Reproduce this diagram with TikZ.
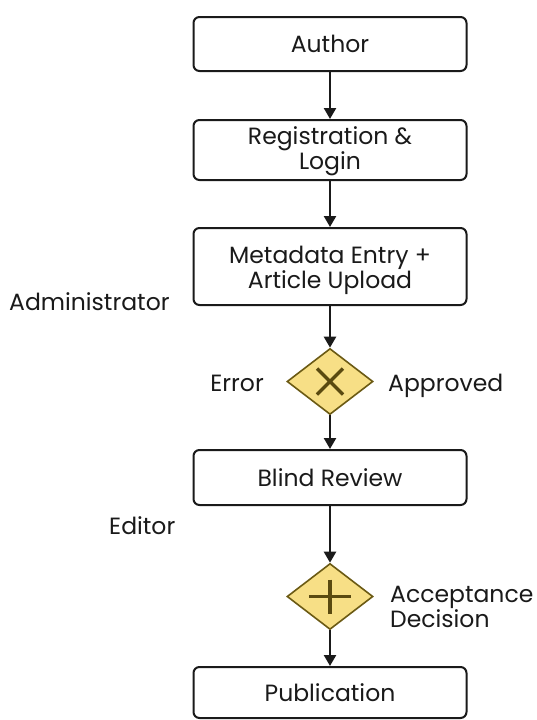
\documentclass[tikz,border=0pt]{standalone}
\usepackage{fontspec}
\setmainfont{Poppins}
\usetikzlibrary{arrows.meta,shapes.geometric,calc}
\definecolor{gwfill}{HTML}{F7DF86}
\definecolor{gwline}{HTML}{6B5A14}
\definecolor{gwmark}{HTML}{5A4A10}
\definecolor{ink}{HTML}{1A1A1A}
\begin{document}
\begin{tikzpicture}[x=1pt,y=-1pt,
  stepbox/.style={draw=ink,line width=2pt,rounded corners=6pt,minimum width=273pt,inner sep=0pt,align=center,font=\fontsize{23.5}{25}\selectfont,text=ink},
  gw/.style={draw=gwline,fill=gwfill,line width=1.6pt,diamond,minimum width=86pt,minimum height=66pt,inner sep=0pt,aspect=1.3},
  lbl/.style={font=\fontsize{23.5}{25}\selectfont,text=ink,inner sep=0pt},
  flow/.style={draw=ink,line width=2.4pt,-{Triangle[length=11pt,width=12pt]}},
  gwsign/.style={draw=gwmark,line width=3.5pt}
]
\useasboundingbox (0,0) rectangle (537,720);
\fill[white] (0,0) rectangle (537,720);
\node[stepbox,minimum height=54pt] (author) at (330,44) {Author};
\node[stepbox,minimum height=60pt] (reg) at (330,150) {\rule{0pt}{21pt}Registration \&\\Login};
\node[stepbox,minimum height=77pt] (meta) at (330,266.5) {\rule{0pt}{26pt}Metadata Entry +\\Article Upload};
\node[gw] (g1) at (330,381.5) {};
\node[stepbox,minimum height=55pt] (blind) at (330,477.5) {Blind Review};
\node[gw] (g2) at (330,596.5) {};
\node[stepbox,minimum height=51pt] (pub) at (330,692.5) {Publication};
\draw[gwsign] ($(g1)+(-13,-13)$) -- ($(g1)+(13,13)$) ($(g1)+(-13,13)$) -- ($(g1)+(13,-13)$);
\draw[gwsign] ($(g2)+(-21,0)$) -- ($(g2)+(21,0)$) ($(g2)+(0,-17)$) -- ($(g2)+(0,17)$);
\node[lbl,anchor=base west] (admin) at (9,310) {Administrator};
\node[lbl,anchor=base west] (editor) at (109,534) {Editor};
\node[lbl,anchor=base east] (err) at (264,391) {Error};
\node[lbl,anchor=base west] (appr) at (388,391) {Approved};
\node[lbl,anchor=west,align=left] (acc) at (390,607) {Acceptance\\Decision};
\draw[flow] (author) -- (reg);
\draw[flow] (reg) -- (meta);
\draw[flow] (meta) -- (g1);
\draw[flow] (g1) -- (blind);
\draw[flow] (blind) -- (g2);
\draw[flow] (g2) -- (pub);
\end{tikzpicture}
\end{document}
